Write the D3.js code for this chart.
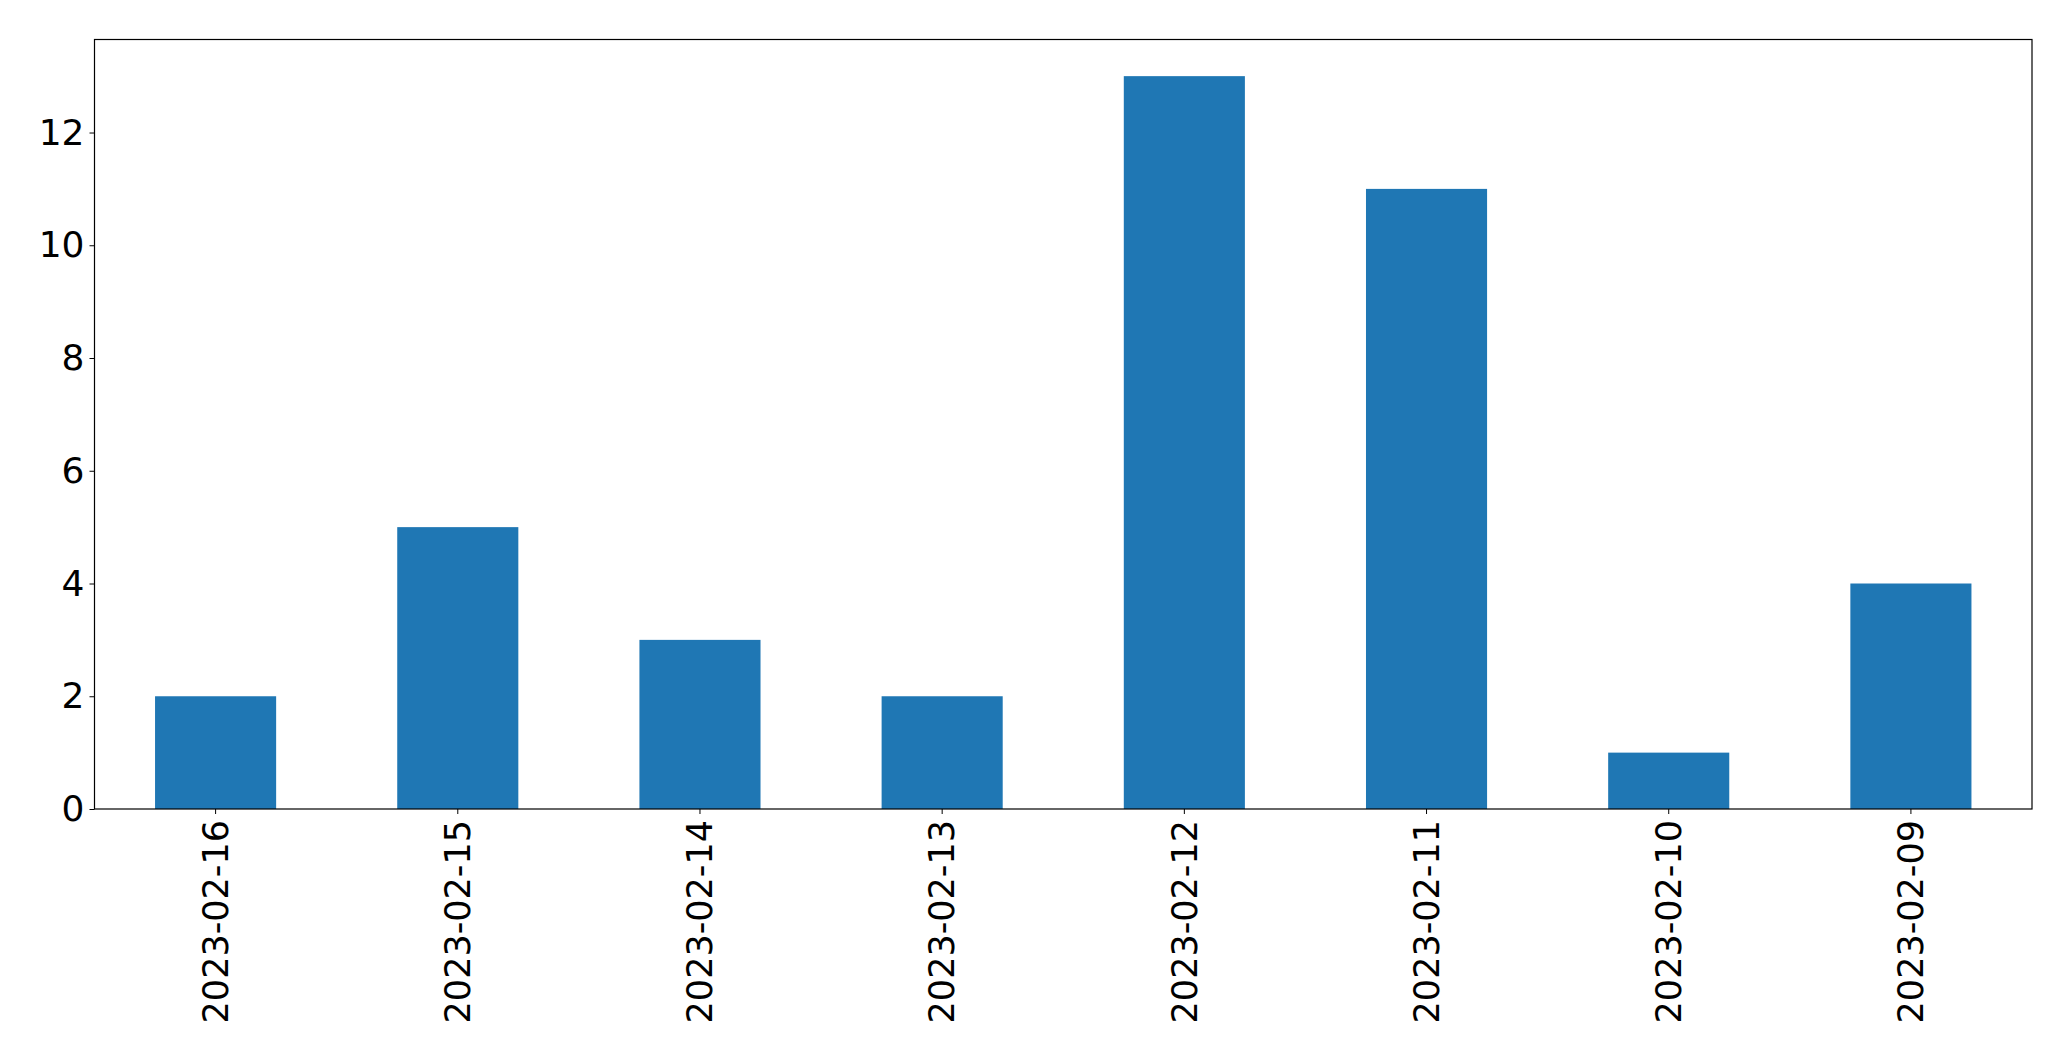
<!DOCTYPE html>
<html><head><meta charset="utf-8">
<script src="https://cdn.jsdelivr.net/npm/d3@7"></script>
<style>body{margin:0;background:#fff;} text{font-family:"DejaVu Sans";}</style>
</head><body>
<svg id="c" width="2071" height="1061"></svg>
<script>
const categories = ["2023-02-16","2023-02-15","2023-02-14","2023-02-13","2023-02-12","2023-02-11","2023-02-10","2023-02-09"];
const values = [2,5,3,2,13,11,1,4];
const yTicks = [0,2,4,6,8,10,12];

const m = {left:94.5, top:39.5, right:2032, bottom:809};
const W = m.right - m.left, H = m.bottom - m.top;
const svg = d3.select("#c");
const g = svg.append("g").attr("transform", `translate(${m.left},${m.top})`);

const x = d3.scaleBand().domain(categories).range([0,W]).paddingInner(0.5).paddingOuter(0.25);
const y = d3.scaleLinear().domain([0, d3.max(values)*1.05]).range([H,0]);

g.selectAll("rect.bar").data(values).join("rect").attr("class","bar")
  .attr("x",(d,i)=>x(categories[i])).attr("width",x.bandwidth())
  .attr("y",d=>y(d)).attr("height",d=>H-y(d)).attr("fill","#1f77b4");

const yAxis = g.append("g").call(d3.axisLeft(y).tickValues(yTicks).tickSize(5).tickPadding(5).tickFormat(d3.format("d")));
yAxis.select(".domain").remove();
yAxis.selectAll("line").attr("stroke","#000").attr("stroke-width",1);
yAxis.selectAll("text").attr("font-size","36px").attr("fill","#000").attr("font-family","DejaVu Sans");

const xAxis = g.append("g").attr("transform",`translate(0,${H})`).call(d3.axisBottom(x).tickSize(5).tickPadding(5));
xAxis.select(".domain").remove();
xAxis.selectAll("line").attr("stroke","#000").attr("stroke-width",1);
xAxis.selectAll("text").attr("font-size","35px").attr("fill","#000").attr("font-family","DejaVu Sans")
  .attr("transform","rotate(-90)").attr("text-anchor","end").attr("x",-11).attr("y",0).attr("dy","0.35em");

g.append("rect").attr("x",0).attr("y",0).attr("width",W).attr("height",H)
  .attr("fill","none").attr("stroke","#000").attr("stroke-width",1.2);
</script>
</body></html>
